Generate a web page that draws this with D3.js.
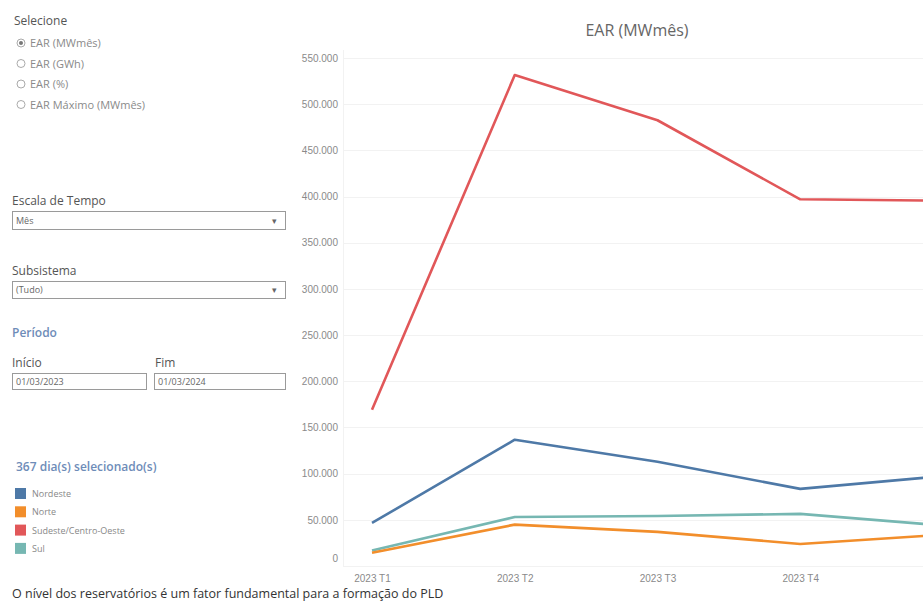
<!DOCTYPE html>
<html>
<head>
<meta charset="utf-8">
<script src="https://cdn.jsdelivr.net/npm/d3@7"></script>
<style>
  body { margin: 0; background: #fff; }
  svg { display: block; font-family: "Open Sans", "Noto Sans", sans-serif; }
  .tick text { fill: #8a8a8a; font-size: 10px; }
  .lbl { fill: #555; font-size: 12px; }
  .opt { fill: #8a8a8a; font-size: 11px; }
  .blue { fill: #6e8cb8; font-size: 12px; font-weight: 600; }
  .box { fill: #fff; stroke: #9a9a9a; stroke-width: 1; }
  .boxtxt { fill: #666; font-size: 9px; }
  .leg { fill: #888; font-size: 9px; }
</style>
</head>
<body>
<svg width="923" height="603"></svg>
<script>
// quarters shown on the x axis (last one runs past the right edge)
const quarters = ["2023 T1", "2023 T2", "2023 T3", "2023 T4", "2024 T1"];
const seriesNames = ["Nordeste", "Norte", "Sudeste/Centro-Oeste", "Sul"];
const colors = ["#4e79a7", "#f28e2b", "#e15759", "#76b7b2"];

// EAR (MWmês) per subsystem
const nordeste = [46600, 136700, 112800, 83500, 97400];
const norte    = [14400, 44800, 36900, 23900, 33900];
const sudeste  = [169200, 531500, 482600, 397000, 395600];
const sul      = [16800, 53100, 54200, 56400, 43800];

const yTicks = [0, 50000, 100000, 150000, 200000, 250000, 300000, 350000, 400000, 450000, 500000, 550000];
const radioOpts = ["EAR (MWmês)", "EAR (GWh)", "EAR (%)", "EAR Máximo (MWmês)"];

const svg = d3.select("svg");
const W = +svg.attr("width");
const fmt = d => d3.format(",")(d).replace(/,/g, ".");

// ---- left filter panel ----
const panel = svg.append("g");
panel.append("text").attr("class", "lbl").attr("x", 14).attr("y", 25).text("Selecione");
radioOpts.forEach((t, i) => {
  const y = 43 + i * 20.5;
  panel.append("circle").attr("cx", 21).attr("cy", y).attr("r", 4)
    .attr("fill", "#fff").attr("stroke", "#aaa");
  if (i === 0) panel.append("circle").attr("cx", 21).attr("cy", y).attr("r", 2).attr("fill", "#777");
  panel.append("text").attr("class", "opt").attr("x", 30).attr("y", y + 4).text(t);
});

panel.append("text").attr("class", "lbl").attr("x", 12).attr("y", 205).text("Escala de Tempo");
panel.append("rect").attr("class", "box").attr("x", 12.5).attr("y", 211.5).attr("width", 273).attr("height", 18);
panel.append("text").attr("class", "boxtxt").attr("x", 16).attr("y", 224).text("Mês");
panel.append("text").attr("class", "boxtxt").attr("x", 272).attr("y", 224).text("▾");

panel.append("text").attr("class", "lbl").attr("x", 12).attr("y", 275).text("Subsistema");
panel.append("rect").attr("class", "box").attr("x", 12.5).attr("y", 281.5).attr("width", 273).attr("height", 17);
panel.append("text").attr("class", "boxtxt").attr("x", 16).attr("y", 293).text("(Tudo)");
panel.append("text").attr("class", "boxtxt").attr("x", 272).attr("y", 293).text("▾");

panel.append("text").attr("class", "blue").attr("x", 12).attr("y", 337).attr("font-weight", 500).text("Período");
panel.append("text").attr("class", "lbl").attr("x", 12).attr("y", 367).text("Início");
panel.append("text").attr("class", "lbl").attr("x", 155).attr("y", 367).text("Fim");
panel.append("rect").attr("class", "box").attr("x", 12.5).attr("y", 373.5).attr("width", 134).attr("height", 16);
panel.append("text").attr("class", "boxtxt").attr("x", 16).attr("y", 385).text("01/03/2023");
panel.append("rect").attr("class", "box").attr("x", 154.5).attr("y", 373.5).attr("width", 131).attr("height", 16);
panel.append("text").attr("class", "boxtxt").attr("x", 158).attr("y", 385).text("01/03/2024");

panel.append("text").attr("class", "blue").attr("x", 16).attr("y", 471).text("367 dia(s) selecionado(s)");
seriesNames.forEach((n, i) => {
  const y = 488 + i * 18.3;
  panel.append("rect").attr("x", 15).attr("y", y).attr("width", 11).attr("height", 11).attr("fill", colors[i]);
  panel.append("text").attr("class", "leg").attr("x", 32).attr("y", y + 9).text(n);
});

svg.append("text").attr("x", 12).attr("y", 598).attr("fill", "#333").attr("font-size", 12.5)
  .text("O nível dos reservatórios é um fator fundamental para a formação do PLD");

// ---- chart ----
svg.append("text").attr("x", 637).attr("y", 36).attr("text-anchor", "middle")
  .attr("fill", "#666").attr("font-size", 16).text("EAR (MWmês)");

const x = d3.scalePoint().domain(quarters).range([372, 943]);
const y = d3.scaleLinear().domain([0, 550000]).range([566, 58]);

const grid = svg.append("g");
grid.selectAll("line").data(yTicks).join("line")
  .attr("x1", 343).attr("x2", W)
  .attr("y1", d => Math.round(y(d)) + 0.5).attr("y2", d => Math.round(y(d)) + 0.5)
  .attr("stroke", "#f2f2f2");
svg.append("line").attr("x1", 343.5).attr("x2", 343.5).attr("y1", 50).attr("y2", 566)
  .attr("stroke", "#f2f2f2");

const yAxis = svg.append("g").attr("transform", "translate(340,0)")
  .call(d3.axisLeft(y).tickValues(yTicks).tickFormat(fmt).tickSize(0).tickPadding(2));
yAxis.select(".domain").remove();
yAxis.selectAll(".tick").filter(d => d === 0).select("text").attr("dy", "-0.45em");

// only label the quarters whose label fits inside the visible area
const xAxis = svg.append("g").attr("transform", "translate(0,566)")
  .call(d3.axisBottom(x).tickValues(quarters.filter(q => x(q) + 25 < W)).tickSize(0).tickPadding(9));
xAxis.select(".domain").remove();
xAxis.selectAll("text").attr("font-size", 9);

const data = [nordeste, norte, sudeste, sul];
const line = d3.line().x((d, i) => x(quarters[i])).y(d => y(d));
const order = [0, 3, 1, 2];
order.forEach(k => {
  svg.append("path").datum(data[k])
    .attr("d", line).attr("fill", "none")
    .attr("stroke", colors[k]).attr("stroke-width", 2.6)
    .attr("stroke-linejoin", "round");
});
</script>
</body>
</html>
